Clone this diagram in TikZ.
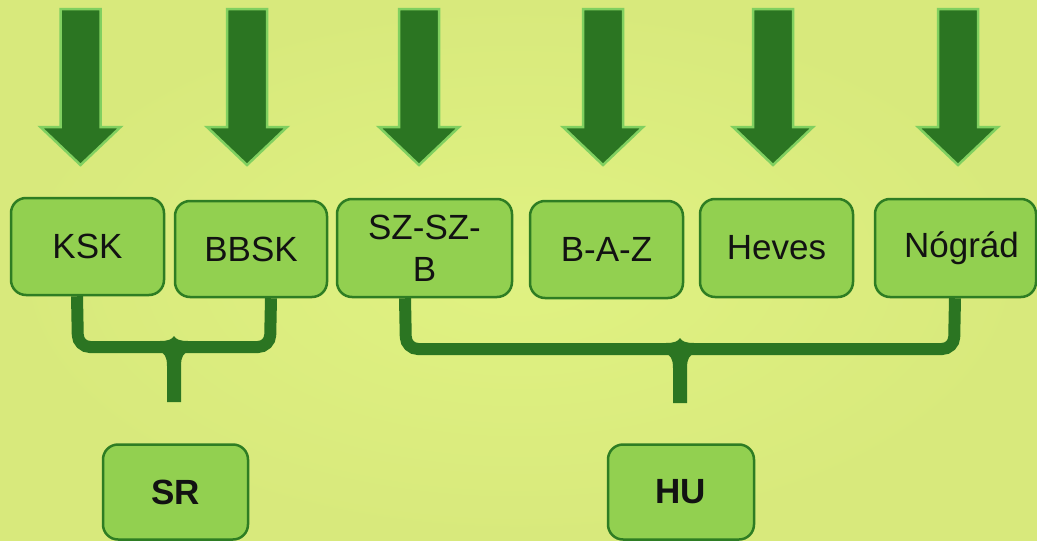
\documentclass[tikz,border=0pt]{standalone}
\usepackage{fontspec}
\setmainfont{Liberation Sans}
\definecolor{bgc}{HTML}{D8E97C}
\definecolor{bgin}{HTML}{E0F282}
\definecolor{darkg}{HTML}{2B7522}
\definecolor{lightg}{HTML}{80D060}
\definecolor{boxfill}{HTML}{92D050}
\definecolor{boxline}{HTML}{2E7D23}
\begin{document}
\begin{tikzpicture}[x=1pt,y=-1pt,
  region/.style={draw=boxline, line width=2.5pt, fill=boxfill, rounded corners=15pt,
    inner sep=0pt, align=center, font=\fontsize{35}{42}\selectfont, text=black!93},
  downarrow/.style={fill=darkg, draw=lightg, line width=2.5pt, line join=miter},
  bracearm/.style={draw=darkg, line width=12pt, rounded corners=12pt},
  bracestem/.style={fill=darkg}]
\useasboundingbox (0,0) rectangle (1037,541);
\shade[inner color=bgin, outer color=bgc] (0,0) rectangle (1037,541);
% arrows
\foreach \cx in {80.5,247,419,603,773,958}{
  \draw[downarrow] (\cx-20,9) -- (\cx+20,9) -- (\cx+20,127) -- (\cx+40,127)
    -- (\cx,165) -- (\cx-40,127) -- (\cx-20,127) -- cycle;
}
% county boxes
\node[region, minimum width=153pt, minimum height=97pt] (ksk) at (87.5,246.5) {KSK};
\node[region, minimum width=152pt, minimum height=96pt] (bbsk) at (251,249) {BBSK};
\node[region, minimum width=175pt, minimum height=98pt] (szszb) at (424.5,248) {SZ-SZ-\\B};
\node[region, minimum width=153pt, minimum height=97pt] (baz) at (606.5,249.5) {B-A-Z};
\node[region, minimum width=153pt, minimum height=98pt] (heves) at (776.5,248) {Heves};
\node[region, minimum width=161pt, minimum height=98pt] (nograd) at (955.5,248) {\hspace*{12pt}Nógrád};
% country boxes
\node[region, minimum width=145pt, minimum height=95pt, font=\fontsize{35}{42}\selectfont\bfseries] (sr) at (175.5,492) {SR};
\node[region, minimum width=146pt, minimum height=95pt, font=\fontsize{35}{42}\selectfont\bfseries] (hu) at (681,492) {HU};
% SR brace
\draw[bracearm] (77,0 |- ksk.south) -- (78,347) -- (270,347) -- (271,0 |- bbsk.south);
\fill[bracestem] (160,341) .. controls (168,341) and (172,339.5) .. (174,336)
  .. controls (176,339.5) and (180,341) .. (188,341) -- (188,352)
  .. controls (184,353) and (181,356) .. (181,366) -- (181,402) -- (167,402) -- (167,366)
  .. controls (167,356) and (164,353) .. (160,352) -- cycle;
% HU brace
\draw[bracearm] (405,0 |- szszb.south) -- (406,349) -- (954,349) -- (955,0 |- nograd.south);
\fill[bracestem] (666,343) .. controls (674,343) and (678,341.5) .. (680,338)
  .. controls (682,341.5) and (686,343) .. (694,343) -- (694,354)
  .. controls (690,355) and (687,358) .. (687,368) -- (687,403) -- (673,403) -- (673,368)
  .. controls (673,358) and (670,355) .. (666,354) -- cycle;
\end{tikzpicture}
\end{document}
